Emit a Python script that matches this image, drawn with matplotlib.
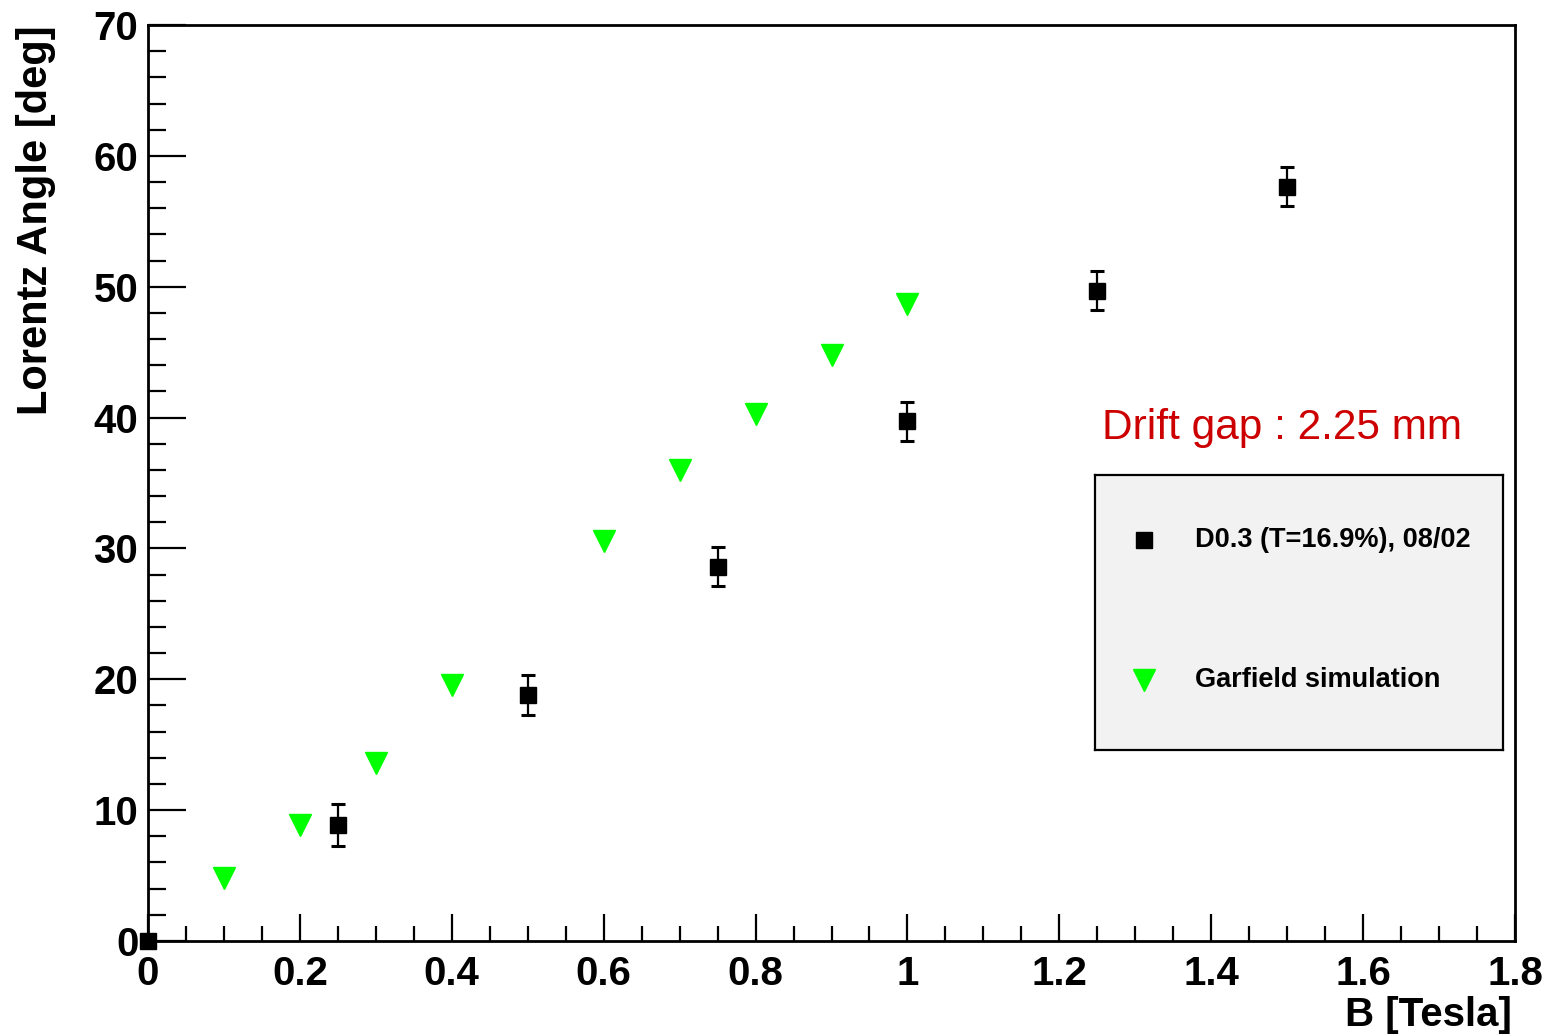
import matplotlib
matplotlib.use("Agg")
import matplotlib.pyplot as plt
from matplotlib.ticker import MultipleLocator
from matplotlib.lines import Line2D

# measured data (D0.3, T=16.9%, 08/02)
b_meas = [0.0, 0.25, 0.5, 0.75, 1.0, 1.25, 1.5]
angle_meas = [0.0, 8.85, 18.8, 28.6, 39.7, 49.7, 57.65]
angle_err = [0.0, 1.6, 1.5, 1.5, 1.5, 1.5, 1.5]

# Garfield simulation
b_sim = [0.1, 0.2, 0.3, 0.4, 0.6, 0.7, 0.8, 0.9, 1.0]
angle_sim = [4.8, 8.9, 13.6, 19.6, 30.6, 36.0, 40.3, 44.75, 48.65]

legend_labels = ["D0.3 (T=16.9%), 08/02", "Garfield simulation"]

plt.rcParams["font.family"] = ["Liberation Sans", "DejaVu Sans"]

W, H = 1547, 1035
fig = plt.figure(figsize=(W / 100, H / 100), dpi=100)
ax = fig.add_axes([148 / W, (H - 941) / H, (1515 - 148) / W, (941 - 25) / H])

ax.errorbar(b_meas, angle_meas, yerr=angle_err, fmt="s", color="black",
            markersize=12.2, elinewidth=1.6, capsize=5, capthick=2.2,
            clip_on=False, zorder=3)
ax.plot(b_sim, angle_sim, linestyle="none", marker="v", color="#00ff00",
        markersize=15.8, zorder=3)

ax.set_xlim(0, 1.8)
ax.set_ylim(0, 70)
ax.xaxis.set_major_locator(MultipleLocator(0.2))
ax.xaxis.set_minor_locator(MultipleLocator(0.05))
ax.yaxis.set_major_locator(MultipleLocator(10))
ax.yaxis.set_minor_locator(MultipleLocator(2))
ax.set_xticklabels([f"{v:g}" for v in ax.get_xticks()])
ax.set_yticklabels([f"{v:g}" for v in ax.get_yticks()])

ax.tick_params(axis="x", which="major", direction="in", length=19.5, width=1.6,
               labelsize=29, pad=10, top=False)
ax.tick_params(axis="x", which="minor", direction="in", length=10.5, width=1.6, top=False)
ax.tick_params(axis="y", which="major", direction="in", length=27.5, width=1.6,
               labelsize=29, pad=7, right=False)
ax.tick_params(axis="y", which="minor", direction="in", length=13, width=1.6, right=False)
for lab in ax.get_xticklabels() + ax.get_yticklabels():
    lab.set_fontweight("bold")
for sp in ax.spines.values():
    sp.set_linewidth(2.0)

fig.text(36 / W, 1 - 25 / H, "Lorentz Angle [deg]", rotation=90, ha="center",
         va="top", fontsize=30, fontweight="bold")
fig.text(1512 / W, 1 - 1015 / H, "B [Tesla]", ha="right", va="center",
         fontsize=29, fontweight="bold")
fig.text(1102 / W, 1 - 428 / H, "Drift gap : 2.25 mm", ha="left", va="center",
         fontsize=30.5, color="#cc0000")

# legend box
lax = fig.add_axes([1095 / W, (H - 750) / H, (1503 - 1095) / W, (750 - 475) / H])
lax.set_facecolor("#f2f2f2")
lax.set_xlim(0, 408)
lax.set_ylim(275, 0)
lax.set_xticks([])
lax.set_yticks([])
for sp in lax.spines.values():
    sp.set_linewidth(1.6)
handles = [
    Line2D([49], [65], marker="s", color="black", markersize=12.2, linestyle="none"),
    Line2D([49], [205], marker="v", color="#00ff00", markersize=15.8, linestyle="none"),
]
for h, lbl in zip(handles, legend_labels):
    lax.add_line(h)
    lax.text(100, h.get_ydata()[0], lbl, ha="left", va="center",
             fontsize=19.5, fontweight="bold")

fig.savefig("out.png", dpi=100)
